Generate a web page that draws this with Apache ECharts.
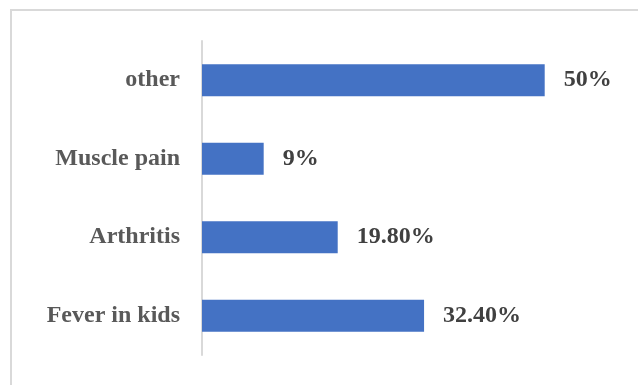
<!DOCTYPE html>
<html><head><meta charset="utf-8">
<script src="https://cdn.jsdelivr.net/npm/echarts@6/dist/echarts.min.js"></script>
<style>html,body{margin:0;padding:0;background:#fff}#c{width:638px;height:385px}</style>
</head><body><div id="c"></div>
<script>
const categories = ["other", "Muscle pain", "Arthritis", "Fever in kids"];
const values = [50, 9, 19.8, 32.4];
const valueLabels = ["50%", "9%", "19.80%", "32.40%"];

const chart = echarts.init(document.getElementById('c'), null, {renderer: 'canvas'});
const font = '"Liberation Serif", "Times New Roman", serif';
chart.setOption({
  animation: false,
  backgroundColor: '#fff',
  graphic: [{
    type: 'rect', shape: {x: 11, y: 10, width: 800, height: 600},
    style: {fill: 'none', stroke: '#d9d9d9', lineWidth: 2}, silent: true
  }],
  grid: {left: 202, top: 41, height: 314, width: 342.7},
  xAxis: {type: 'value', min: 0, max: 50, show: false},
  yAxis: {
    type: 'category', data: categories, inverse: true,
    axisLine: {show: true, lineStyle: {color: '#d9d9d9', width: 2}},
    axisTick: {show: false},
    axisLabel: {margin: 22, color: '#595959', fontFamily: font, fontWeight: 'bold', fontSize: 24,
      padding: [5, 0, 0, 0]}
  },
  series: [{
    type: 'bar', data: values, barWidth: 32,
    itemStyle: {color: '#4472c4'},
    label: {show: true, position: 'right', distance: 19, padding: [5, 0, 0, 0],
      formatter: p => valueLabels[p.dataIndex],
      color: '#404040', fontFamily: font, fontWeight: 'bold', fontSize: 24}
  }]
});
</script></body></html>
